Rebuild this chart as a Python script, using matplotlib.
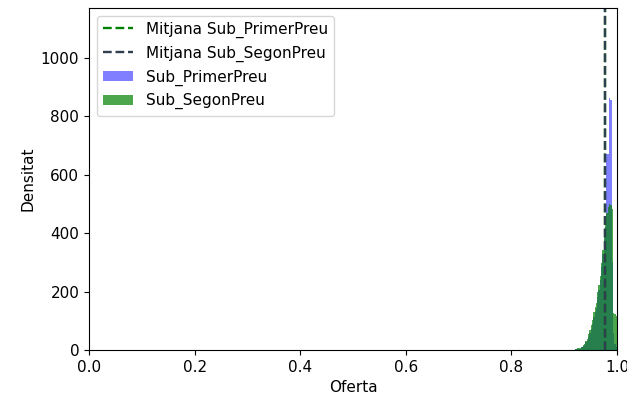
import numpy as np
import matplotlib
matplotlib.use("Agg")
from matplotlib import pyplot as plt

plt.rcParams['font.size'] = 11

# histogram bins (0.0025 wide, 0.92 -> 1.0) and densities
bin_edges = np.round(np.arange(0.92, 1.00001, 0.0025), 4)
dens_segon = [4, 3, 6, 8, 7, 12, 18, 22, 32, 38, 55, 68, 85, 102, 130, 148,
              160, 198, 222, 255, 298, 342, 392, 430, 468, 490, 500, 495, 482, 128, 122, 118]
dens_primer = [2, 2, 4, 5, 5, 9, 14, 18, 26, 32, 45, 58, 72, 90, 112, 130,
               145, 180, 205, 240, 285, 330, 380, 420, 670, 672, 862, 855, 300, 60, 20, 10]

mitjana_primer = 0.977
mitjana_segon = 0.978

fig, ax = plt.subplots(figsize=(6.27, 4.01), dpi=100)
fig.subplots_adjust(left=0.142, right=0.984, bottom=0.127, top=0.98)

centers = (bin_edges[:-1] + bin_edges[1:]) / 2
ax.hist(centers, bins=bin_edges, weights=dens_primer, color='blue', alpha=0.5,
        label='Sub_PrimerPreu')
ax.hist(centers, bins=bin_edges, weights=dens_segon, color='green', alpha=0.7,
        label='Sub_SegonPreu')

ax.axvline(mitjana_primer, color='green', linestyle='--', linewidth=1.7,
           label='Mitjana Sub_PrimerPreu')
ax.axvline(mitjana_segon, color='#2f3f4f', linestyle='--', linewidth=1.7,
           label='Mitjana Sub_SegonPreu')

ax.set_xlim(0, 1)
ax.set_ylim(0, 1170)
ax.set_xlabel('Oferta')
ax.set_ylabel('Densitat')

handles, labels = ax.get_legend_handles_labels()
order = [2, 3, 0, 1]
ax.legend([handles[i] for i in order], [labels[i] for i in order], loc='upper left')

fig.savefig('out.png')
